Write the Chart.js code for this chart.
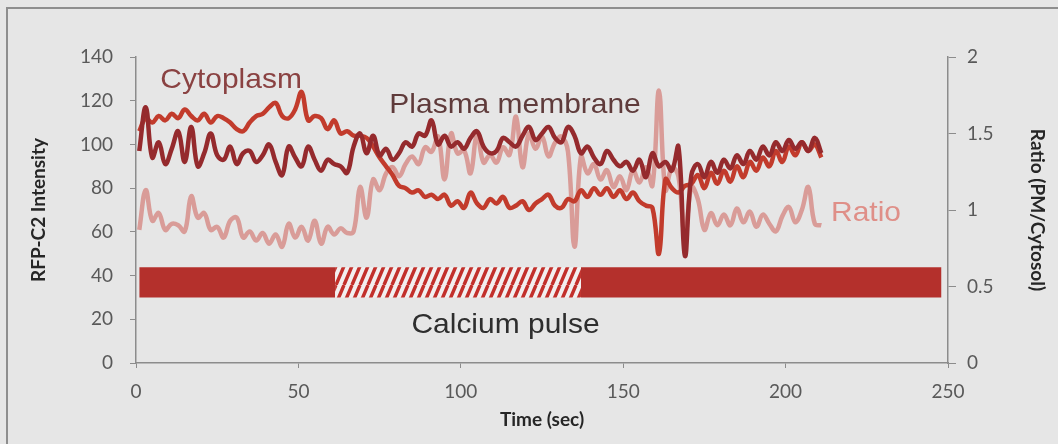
<!DOCTYPE html>
<html>
<head>
<meta charset="utf-8">
<script src="https://cdn.jsdelivr.net/npm/chart.js@4.4.1/dist/chart.umd.min.js"></script>
<style>
  html, body { margin: 0; padding: 0; background: #e6e6e6; overflow: hidden; }
  #frame { position: absolute; left: 6px; top: 7px; width: 1050px; height: 440px;
           border-left: 2px solid #8e8e8e; border-top: 2px solid #8e8e8e; }
  #wrap { position: absolute; left: 0; top: 0; width: 1058px; height: 444px; }
</style>
</head>
<body>
<div id="frame"></div>
<div id="wrap"><canvas id="calciumChart"></canvas></div>
<script>
/* ======================
   DATA
====================== */

const times = [
  1, 3, 5, 7, 9, 11, 13, 15, 17, 19,
  21, 23, 25, 27, 29, 31, 33, 35, 37, 39,
  41, 43, 45, 47, 49, 51, 53, 55, 57, 59,
  61, 63, 65, 67, 69, 71, 73, 75, 77, 79,
  81, 83, 85, 87, 89, 91, 93, 95, 97, 99,
  101, 103, 105, 107, 109, 111, 113, 115, 117, 119,
  121, 123, 125, 127, 129, 131, 133, 135, 137, 139,
  141, 143, 145, 147, 149, 151, 153, 155, 157, 159,
  161, 163, 165, 167, 169, 171, 173, 175, 177, 179,
  181, 183, 185, 187, 189, 191, 193, 195, 197, 199,
  201, 203, 205, 207, 209, 211
];

const cytoplasm = [
  106, 112, 110, 113, 111, 114, 112, 116, 113, 111,
  114, 110, 113, 112, 110, 107, 106, 110, 113, 114,
  117, 119, 113, 112, 116, 124, 111, 113, 112, 107,
  111, 105, 106, 104, 104, 103, 99, 94, 90, 86,
  81, 80, 78, 79, 76, 77, 75, 77, 72, 74,
  71, 78, 73, 71, 75, 73, 76, 71, 72, 74,
  70, 73, 75, 77, 72, 71, 75, 74, 79, 76,
  80, 77, 80, 76, 79, 75, 78, 74, 72, 71,
  50, 84, 80, 78, 81, 82, 86, 80, 87, 82,
  88, 83, 90, 85, 92, 88, 94, 90, 97, 92,
  99, 95, 101, 97, 100, 94
];

const plasmaMembrane = [
  97, 117, 94, 101, 91, 98, 106, 92, 108, 90,
  96, 105, 95, 93, 99, 91, 96, 97, 92, 95,
  100, 92, 86, 99, 94, 90, 99, 93, 88, 93,
  91, 90, 87, 99, 105, 96, 104, 95, 98, 93,
  96, 101, 99, 105, 104, 111, 100, 104, 99, 101,
  98, 103, 106, 99, 96, 97, 103, 101, 99, 104,
  108, 102, 105, 108, 103, 101, 108, 104, 96, 99,
  94, 91, 97, 93, 90, 92, 88, 93, 85, 96,
  90, 92, 88, 99, 49, 86, 91, 85, 92, 87,
  93, 89, 95, 91, 97, 93, 99, 95, 101, 97,
  102, 98, 101, 97, 103, 96
];

const ratio = [
  0.87, 1.13, 0.93, 0.98, 0.87, 0.91, 0.90, 0.86, 1.09, 0.95,
  0.98, 0.87, 0.89, 0.82, 0.93, 0.95, 0.82, 0.86, 0.80, 0.85,
  0.78, 0.84, 0.76, 0.91, 0.82, 0.89, 0.80, 0.93, 0.78, 0.89,
  0.84, 0.88, 0.85, 0.86, 1.15, 0.95, 1.20, 1.13, 1.24, 1.28,
  1.22, 1.30, 1.35, 1.30, 1.41, 1.38, 1.48, 1.20, 1.50, 1.37,
  1.39, 1.24, 1.50, 1.31, 1.36, 1.31, 1.41, 1.36, 1.61, 1.28,
  1.50, 1.40, 1.48, 1.35, 1.44, 1.48, 1.38, 0.76, 1.35, 1.24,
  1.30, 1.20, 1.26, 1.15, 1.22, 1.13, 1.26, 1.18, 1.28, 1.16,
  1.78, 1.13, 1.28, 1.22, 0.82, 1.15, 1.07, 0.87, 0.98, 0.90,
  0.97, 0.90, 1.01, 0.92, 0.99, 0.89, 0.97, 0.91, 0.86, 0.96,
  1.02, 0.92, 1.00, 1.15, 0.91, 0.90
];

// calcium pulse band (seconds), middle part is the calcium-free interval
const pulseStart = [1, 61.3, 137];
const pulseEnd = [61.3, 137, 248];
const pulseHatched = [false, true, false];
const pulseLow = 30;
const pulseHigh = 43.8;

/* ======================
   TEXT LABELS
====================== */

const notes = [
  { text: "Cytoplasm", x: 7.5, y: 125.8, color: "#8a4242" },
  { text: "Plasma membrane", x: 78, y: 114.4, color: "#5f3b3b" },
  { text: "Calcium pulse", x: 84.8, y: 13.7, color: "#2e2e2e" },
  { text: "Ratio", x: 214, y: 65, color: "#df8f88" }
];

const notePlugin = {
  id: "notes",
  afterDatasetsDraw(chart) {
    const { ctx, scales } = chart;
    ctx.save();
    ctx.font = "28px 'Liberation Sans', Arial, sans-serif";
    ctx.textBaseline = "alphabetic";
    notes.forEach(n => {
      ctx.save();
      ctx.translate(scales.x.getPixelForValue(n.x), scales.y.getPixelForValue(n.y));
      ctx.scale(1.07, 1);
      ctx.fillStyle = n.color;
      ctx.fillText(n.text, 0, 0);
      ctx.restore();
    });
    ctx.restore();
  }
};

/* ======================
   CHART
====================== */

const ctx = document.getElementById("calciumChart").getContext("2d");

function hatchPattern() {
  const c = document.createElement("canvas");
  c.width = 8;
  c.height = 19;
  const g = c.getContext("2d");
  g.fillStyle = "#f3efef";
  g.fillRect(0, 0, 8, 19);
  g.strokeStyle = "#c2302b";
  g.lineWidth = 3.4;
  g.beginPath();
  [-8, 0, 8].forEach(dx => {
    g.moveTo(dx, 19);
    g.lineTo(dx + 8, 0);
  });
  g.stroke();
  return ctx.createPattern(c, "repeat");
}

const hatch = hatchPattern();
const toPoints = vals => vals.map((v, i) => ({ x: times[i], y: v }));

const lineStyle = {
  borderWidth: 4.5,
  pointRadius: 0,
  tension: 0.4,
  fill: false
};

const pulseSets = pulseStart.map((s, i) => ({
  data: [{ x: s, y: pulseHigh }, { x: pulseEnd[i], y: pulseHigh }],
  borderColor: "transparent",
  borderWidth: 0,
  pointRadius: 0,
  backgroundColor: pulseHatched[i] ? hatch : "#b4302c",
  fill: { value: pulseLow },
  yAxisID: "y"
}));

const tickFont = { family: "Lato", size: 19 };
const titleFont = { family: "Lato", size: 19, weight: "bold" };
const axisGray = "#8c8c8c";

new Chart(ctx, {
  type: "line",
  data: {
    datasets: [
      { label: "Plasma membrane", data: toPoints(plasmaMembrane), borderColor: "#952a2d", yAxisID: "y", ...lineStyle },
      { label: "Cytoplasm", data: toPoints(cytoplasm), borderColor: "#c23b2c", yAxisID: "y", ...lineStyle },
      { label: "Ratio", data: toPoints(ratio), borderColor: "#d99c98", yAxisID: "y2", ...lineStyle },
      ...pulseSets
    ]
  },
  options: {
    responsive: true,
    maintainAspectRatio: false,
    animation: false,
    layout: { padding: { top: 57, left: 0, right: 0, bottom: 0 } },
    plugins: {
      legend: { display: false },
      tooltip: { enabled: false }
    },
    scales: {
      x: {
        type: "linear",
        min: 0,
        max: 250,
        ticks: { stepSize: 50, color: "#595959", font: tickFont, padding: 12 },
        grid: { drawOnChartArea: false, color: axisGray, tickLength: 5 },
        border: { color: axisGray, width: 1.5 },
        title: {
          display: true, text: "Time (sec)", color: "#262626", font: titleFont,
          padding: { top: 0, bottom: 13 }
        },
        afterFit: s => { s.height = 81; }
      },
      y: {
        position: "left",
        min: 0,
        max: 140,
        ticks: { stepSize: 20, color: "#595959", font: tickFont, padding: 17 },
        grid: { drawOnChartArea: false, color: axisGray, tickLength: 6 },
        border: { color: axisGray, width: 1.5 },
        title: {
          display: true, text: "RFP-C2 Intensity", color: "#262626", font: titleFont,
          padding: { top: 27, bottom: 0 }
        },
        afterFit: s => { s.width = 136; }
      },
      y2: {
        position: "right",
        min: 0,
        max: 2,
        ticks: {
          stepSize: 0.5, color: "#595959", font: tickFont, padding: 11,
          callback: v => String(v)
        },
        grid: { drawOnChartArea: false, color: axisGray, tickLength: 8 },
        border: { color: axisGray, width: 1.5 },
        title: {
          display: true, text: "Ratio (PM/Cytosol)", color: "#262626", font: titleFont,
          padding: { top: 9, bottom: 0 }
        },
        afterFit: s => { s.width = 110; }
      }
    }
  },
  plugins: [notePlugin]
});
</script>
</body>
</html>
